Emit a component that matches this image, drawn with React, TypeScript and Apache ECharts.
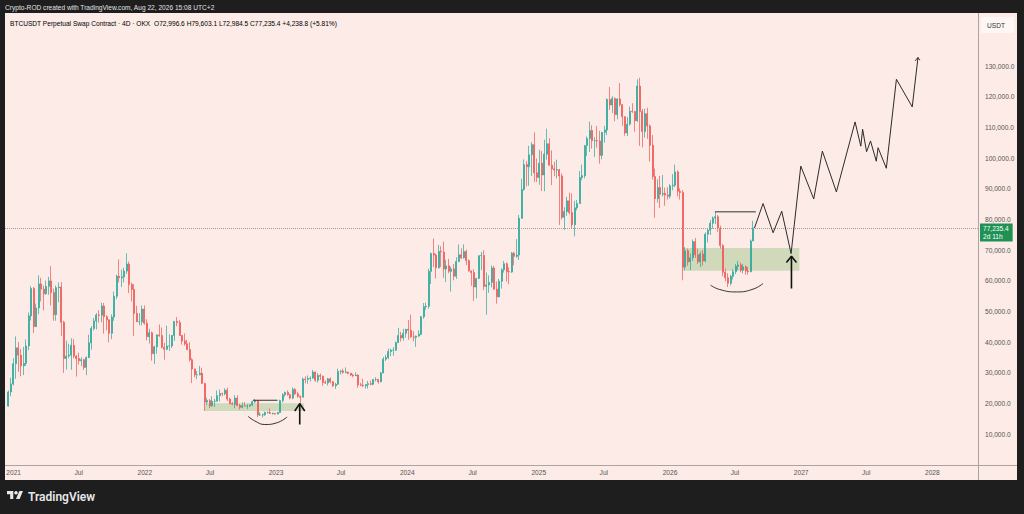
import React, { useEffect, useRef } from "react";
import * as echarts from "echarts";

const DAY = 86400000;
const ts = (d: string) => Date.parse(d + "T00:00:00Z");

// ---- Weekly candles, thousands of USDT: [open, high, low, close] ----
const weeks2020 = [
  [19.2, 24.3, 19.0, 23.8], [23.8, 28.4, 22.4, 26.4], [26.4, 34.8, 25.9, 33.0],
];
const weeks2021 = [
  [33.0, 41.9, 28.1, 38.2], [38.2, 40.1, 30.4, 35.8], [35.8, 37.8, 28.9, 32.3], [32.3, 38.5, 29.3, 33.1],
  [33.1, 40.9, 32.3, 38.8], [38.8, 49.7, 37.4, 48.6], [48.6, 58.3, 47.1, 57.5], [57.5, 58.0, 43.0, 45.1],
  [45.1, 52.6, 45.0, 51.2], [51.2, 61.8, 49.1, 59.0], [59.0, 61.0, 53.3, 57.3], [57.3, 58.5, 50.4, 55.8],
  [55.8, 60.1, 55.5, 58.2], [58.2, 61.3, 55.5, 60.0], [60.0, 64.8, 52.0, 56.2], [56.2, 57.5, 47.0, 49.0],
  [49.0, 58.5, 47.0, 57.8], [57.8, 59.5, 53.0, 58.0], [58.0, 59.6, 42.0, 46.5], [46.5, 47.0, 30.0, 34.7],
  [34.7, 40.5, 31.1, 35.5], [35.5, 39.5, 34.8, 35.8], [35.8, 41.3, 31.0, 39.0], [39.0, 41.0, 34.8, 35.5],
  [35.5, 35.8, 28.8, 34.7], [34.7, 36.6, 32.7, 34.0], [34.0, 35.1, 32.2, 34.3], [34.3, 34.6, 31.0, 31.8],
  [31.8, 35.4, 29.3, 35.0], [35.0, 42.5, 34.9, 39.8], [39.8, 45.3, 37.6, 44.5], [44.5, 47.9, 43.8, 46.9],
  [46.9, 49.5, 44.2, 48.9], [48.9, 50.4, 46.4, 48.8], [48.8, 52.9, 46.5, 51.8], [51.8, 52.8, 42.8, 48.3],
  [48.3, 48.8, 43.9, 47.3], [47.3, 47.4, 40.0, 42.9], [42.9, 49.1, 41.0, 48.2], [48.2, 56.5, 47.0, 55.0],
  [55.0, 62.0, 54.0, 61.5], [61.5, 67.0, 59.5, 61.0], [61.0, 63.7, 58.0, 61.3], [61.3, 64.3, 59.5, 63.2],
  [63.2, 69.0, 62.3, 65.5], [65.5, 66.3, 56.0, 58.8], [58.8, 59.5, 53.3, 57.2], [57.2, 59.0, 42.0, 49.4],
  [49.4, 51.9, 46.6, 46.7], [46.7, 49.5, 45.5, 46.7], [46.7, 52.0, 45.5, 50.8], [50.8, 52.0, 45.7, 46.2],
];
const weeks2022 = [
  [46.2, 47.5, 40.6, 41.8], [41.8, 44.4, 39.6, 43.1], [43.1, 43.5, 34.0, 36.3], [36.3, 38.9, 32.9, 38.5],
  [38.5, 42.6, 36.3, 42.4], [42.4, 45.8, 41.7, 42.2], [42.2, 44.8, 38.0, 38.4], [38.4, 39.8, 34.3, 37.7],
  [37.7, 45.4, 37.4, 38.8], [38.8, 42.6, 37.2, 38.8], [38.8, 42.3, 38.1, 42.2], [42.2, 46.9, 40.5, 46.8],
  [46.8, 48.2, 45.2, 46.4], [46.4, 47.2, 42.1, 42.2], [42.2, 42.4, 39.2, 40.4], [40.4, 42.9, 38.9, 39.5],
  [39.5, 40.8, 37.5, 37.6], [37.6, 40.0, 33.7, 34.3], [34.3, 34.8, 26.7, 31.3], [31.3, 31.4, 28.6, 29.4],
  [29.4, 30.6, 28.0, 29.4], [29.4, 32.3, 29.2, 29.9], [29.9, 31.7, 26.5, 26.6], [26.6, 26.8, 17.6, 20.5],
  [20.5, 21.9, 19.6, 21.0], [21.0, 21.5, 18.6, 19.3], [19.3, 22.4, 19.0, 20.8], [20.8, 21.6, 18.9, 20.8],
  [20.8, 24.3, 20.7, 22.6], [22.6, 24.6, 20.7, 23.3], [23.3, 23.6, 22.4, 23.2], [23.2, 25.0, 22.7, 24.4],
  [24.4, 25.2, 20.8, 21.5], [21.5, 21.9, 19.8, 20.0], [20.0, 20.6, 19.5, 19.8], [19.8, 22.8, 18.5, 21.8],
  [21.8, 22.7, 19.3, 19.4], [19.4, 19.9, 18.1, 18.8], [18.8, 20.4, 18.5, 19.3], [19.3, 20.5, 19.1, 19.2],
  [19.2, 19.9, 18.2, 19.2], [19.2, 19.7, 18.9, 19.6], [19.6, 21.0, 19.2, 20.6], [20.6, 21.5, 20.1, 20.9],
  [20.9, 21.0, 15.6, 16.3], [16.3, 17.2, 16.0, 16.3], [16.3, 16.8, 15.5, 16.4], [16.4, 17.4, 16.0, 17.1],
  [17.1, 17.4, 16.8, 17.1], [17.1, 18.4, 16.6, 16.8], [16.8, 17.1, 16.4, 16.8], [16.8, 17.0, 16.4, 16.6],
];
const weeks2023 = [
  [16.6, 17.3, 16.5, 17.1], [17.1, 21.3, 17.0, 21.0], [21.0, 23.4, 20.4, 22.9], [22.9, 23.9, 22.3, 23.7],
  [23.7, 24.3, 22.6, 22.9], [22.9, 23.2, 21.4, 21.8], [21.8, 25.3, 21.4, 24.6], [24.6, 25.1, 22.9, 23.2],
  [23.2, 23.9, 21.9, 22.4], [22.4, 22.6, 19.6, 22.1], [22.1, 28.5, 21.9, 28.0], [28.0, 28.9, 26.6, 27.9],
  [27.9, 29.2, 26.5, 28.2], [28.2, 28.9, 27.2, 28.3], [28.3, 31.0, 28.2, 30.3], [30.3, 30.5, 27.1, 27.6],
  [27.6, 30.0, 26.9, 29.2], [29.2, 29.8, 27.7, 28.9], [28.9, 29.2, 25.8, 26.9], [26.9, 27.6, 26.4, 26.7],
  [26.7, 28.4, 25.9, 28.1], [28.1, 28.5, 26.6, 27.1], [27.1, 27.4, 25.4, 25.8], [25.8, 26.8, 24.8, 26.3],
  [26.3, 31.4, 26.2, 30.5], [30.5, 31.0, 29.5, 30.6], [30.6, 31.4, 29.7, 30.2], [30.2, 31.8, 29.9, 30.3],
  [30.3, 30.4, 29.5, 29.9], [29.9, 30.0, 29.0, 29.3], [29.3, 29.7, 28.6, 29.1], [29.1, 30.2, 29.0, 29.3],
  [29.3, 29.6, 25.2, 26.1], [26.1, 26.8, 25.8, 26.0], [26.0, 28.1, 25.4, 25.8], [25.8, 26.3, 24.9, 26.2],
  [26.2, 27.4, 24.9, 26.5], [26.5, 27.5, 26.0, 26.3], [26.3, 28.0, 26.0, 27.9], [27.9, 28.6, 27.2, 27.9],
  [27.9, 28.0, 26.5, 27.1], [27.1, 30.3, 27.0, 30.0], [30.0, 35.2, 29.9, 34.5], [34.5, 35.9, 33.9, 35.0],
  [35.0, 37.9, 34.5, 37.0], [37.0, 37.9, 35.5, 37.4], [37.4, 38.4, 35.6, 37.4], [37.4, 40.2, 37.2, 39.9],
  [39.9, 44.7, 39.8, 42.2], [42.2, 43.4, 40.2, 41.4], [41.4, 44.4, 40.5, 42.9], [42.9, 44.4, 41.5, 44.2],
];
const weeks2024 = [
  [44.2, 47.2, 40.8, 43.9], [43.9, 49.0, 41.5, 41.7], [41.7, 43.6, 40.3, 41.6], [41.6, 42.2, 38.5, 42.0],
  [42.0, 43.9, 41.8, 42.6], [42.6, 48.6, 42.3, 48.3], [48.3, 52.8, 47.7, 51.6], [51.6, 52.9, 50.6, 51.7],
  [51.7, 64.0, 50.9, 63.1], [63.1, 69.2, 59.0, 68.9], [68.9, 73.8, 64.5, 68.4], [68.4, 68.9, 60.8, 64.3],
  [64.3, 71.7, 64.0, 69.6], [69.6, 71.3, 64.5, 69.4], [69.4, 72.8, 61.0, 63.9], [63.9, 66.9, 59.6, 64.9],
  [64.9, 67.2, 62.5, 63.1], [63.1, 64.7, 56.5, 63.9], [63.9, 65.5, 60.2, 61.5], [61.5, 67.7, 60.6, 66.3],
  [66.3, 71.9, 66.1, 68.5], [68.5, 70.6, 67.1, 67.5], [67.5, 71.9, 67.3, 69.6], [69.6, 70.2, 65.1, 66.6],
  [66.6, 67.0, 63.1, 63.2], [63.2, 63.4, 58.4, 62.7], [62.7, 63.8, 53.5, 58.0], [58.0, 61.0, 54.3, 60.8],
  [60.8, 68.4, 60.6, 68.2], [68.2, 69.4, 63.5, 68.3], [68.3, 70.0, 57.0, 58.2], [58.2, 62.7, 49.0, 58.7],
  [58.7, 61.8, 56.1, 59.5], [59.5, 65.0, 57.9, 64.2], [64.2, 64.9, 57.2, 57.3], [57.3, 59.8, 52.6, 54.8],
  [54.8, 60.7, 54.6, 59.9], [59.9, 64.1, 57.5, 63.6], [63.6, 66.5, 62.7, 65.6], [65.6, 66.0, 59.8, 63.0],
  [63.0, 64.4, 58.9, 62.9], [62.9, 69.4, 62.6, 69.0], [69.0, 69.5, 65.1, 68.0], [68.0, 73.6, 67.5, 68.4],
  [68.4, 81.5, 66.8, 80.4], [80.4, 93.3, 80.2, 89.8], [89.8, 99.6, 89.4, 97.9], [97.9, 99.0, 90.8, 97.2],
  [97.2, 104.0, 91.0, 101.1], [101.1, 105.2, 94.2, 104.4], [104.4, 108.4, 92.2, 95.2], [95.2, 99.9, 92.2, 93.7],
  [93.7, 102.7, 91.3, 98.3],
];
const weeks2025 = [
  [98.3, 102.3, 89.3, 94.5], [94.5, 106.0, 89.2, 101.3], [101.3, 109.6, 99.5, 104.7], [104.7, 106.5, 97.6, 97.7],
  [97.7, 102.5, 91.2, 96.5], [96.5, 98.8, 94.1, 96.1], [96.1, 99.5, 93.4, 96.2], [96.2, 96.5, 78.2, 94.2],
  [94.2, 95.0, 80.0, 80.7], [80.7, 84.0, 76.6, 82.6], [82.6, 87.4, 81.2, 86.1], [86.1, 88.8, 81.6, 82.3],
  [82.3, 88.5, 77.1, 78.3], [78.3, 86.1, 74.5, 83.8], [83.8, 86.4, 83.0, 85.2], [85.2, 95.8, 85.1, 93.7],
  [93.7, 97.9, 92.8, 94.3], [94.3, 104.2, 93.4, 104.1], [104.1, 107.1, 100.7, 106.4], [106.4, 111.9, 102.0, 109.0],
  [109.0, 110.7, 103.1, 105.7], [105.7, 106.8, 100.4, 105.7], [105.7, 110.5, 103.4, 105.6], [105.6, 108.9, 98.2, 100.9],
  [100.9, 108.5, 99.6, 108.4], [108.4, 110.5, 105.1, 109.2], [109.2, 119.5, 107.5, 119.1], [119.1, 123.2, 115.7, 117.3],
  [117.3, 120.2, 114.7, 119.4], [119.4, 119.8, 112.0, 114.2], [114.2, 119.5, 112.7, 119.3], [119.3, 124.5, 116.8, 117.4],
  [117.4, 117.6, 110.6, 113.5], [113.5, 113.6, 107.3, 108.2], [108.2, 113.4, 107.2, 111.1], [111.1, 116.8, 110.6, 115.3],
  [115.3, 117.9, 114.7, 115.2], [115.2, 115.4, 108.6, 112.2], [112.2, 125.7, 111.8, 123.5], [123.5, 126.2, 104.0, 115.2],
  [115.2, 116.0, 103.5, 108.7], [108.7, 116.1, 106.7, 114.5], [114.5, 116.4, 106.3, 110.5], [110.5, 111.0, 98.9, 104.2],
  [104.2, 107.5, 93.0, 94.0], [94.0, 96.6, 80.6, 86.8], [86.8, 93.1, 85.5, 90.4], [90.4, 94.2, 83.8, 88.2],
  [88.2, 94.5, 87.5, 88.5], [88.5, 90.4, 84.5, 88.0], [88.0, 90.5, 86.5, 87.6], [87.6, 91.5, 86.8, 91.0],
];
const weeks2026 = [
  [91.0, 94.8, 89.5, 91.2], [91.2, 97.9, 90.5, 95.5], [95.5, 96.0, 87.5, 89.2], [89.2, 90.2, 86.5, 88.8],
  [88.8, 89.6, 60.2, 64.5], [64.5, 71.0, 63.5, 69.8], [69.8, 70.5, 65.0, 66.2], [66.2, 69.0, 63.5, 67.5],
  [67.5, 73.5, 66.5, 72.8], [72.8, 74.0, 67.5, 68.5], [68.5, 70.5, 65.5, 66.2], [66.2, 69.5, 64.5, 68.8],
  [68.8, 70.0, 65.0, 66.5], [66.5, 75.8, 66.0, 75.2], [75.2, 77.0, 72.5, 76.5], [76.5, 79.8, 75.0, 78.8],
  [78.8, 81.0, 77.0, 80.5], [80.5, 82.5, 78.5, 80.9], [80.9, 81.5, 76.0, 77.2], [77.2, 78.0, 70.5, 71.5],
  [71.5, 72.0, 61.5, 62.8], [62.8, 64.0, 59.8, 61.0], [61.0, 62.5, 58.0, 59.2], [59.2, 62.0, 58.5, 61.5],
  [61.5, 63.8, 60.5, 63.0], [63.0, 65.5, 62.2, 64.8], [64.8, 66.5, 63.5, 65.2], [65.2, 66.0, 62.8, 63.5],
  [63.5, 65.5, 62.5, 64.6], [64.6, 65.0, 62.0, 63.2], [63.2, 64.5, 62.0, 63.0], [63.0, 73.5, 62.8, 73.0],
  [73.0, 79.6, 72.98, 77.2354],
];
const weekBlocks: [string, number[][]][] = [
  ["2020-12-14", weeks2020], ["2021-01-04", weeks2021], ["2022-01-03", weeks2022], ["2023-01-02", weeks2023],
  ["2024-01-01", weeks2024], ["2025-01-06", weeks2025], ["2026-01-05", weeks2026],
];

// ---- Axis ticks ----
const timeTickDates = [
  "2021-01-01", "2021-07-01", "2022-01-01", "2022-07-01", "2023-01-01", "2023-07-01", "2024-01-01", "2024-07-01",
  "2025-01-01", "2025-07-01", "2026-01-01", "2026-07-01", "2027-01-01", "2027-07-01", "2028-01-01",
];
const priceTicks = [10, 20, 30, 40, 50, 60, 70, 80, 90, 100, 110, 120, 130];
const xRange = ["2020-12-08", "2028-05-07"];
const yRange = [0, 147.3];

// ---- Drawings (dates, thousands of USDT) ----
const projectionDates = [
  "2026-08-24", "2026-09-17", "2026-10-15", "2026-11-08", "2026-12-04", "2026-12-31", "2027-02-05", "2027-03-01",
  "2027-04-09", "2027-05-31", "2027-06-16", "2027-06-21", "2027-07-02", "2027-07-13", "2027-07-29", "2027-08-03",
  "2027-08-26", "2027-09-23", "2027-11-06", "2027-11-22",
];
const projectionPrices = [
  77.2, 85.2, 75.7, 82.7, 68.9, 97.4, 86.7, 102.3, 89.0, 111.8, 103.9, 109.4, 102.1, 105.6, 99.0, 103.4, 96.7,
  125.7, 116.7, 132.8,
];
const projectionHeadDates = ["2027-11-14", "2027-11-22", "2027-11-27"];
const projectionHeadPrices = [131.7, 132.8, 131.9];

const box2022 = { from: "2022-06-16", to: "2023-03-20", low: 17.6, high: 20.1 };
const box2026 = { from: "2026-02-06", to: "2026-12-27", low: 63.3, high: 70.7 };
const level2022 = { from: "2022-10-29", to: "2023-01-05", price: 21.1 };
const level2026 = { from: "2026-05-06", to: "2026-08-28", price: 82.5 };
const arc2022Dates = ["2022-10-15", "2022-11-03", "2022-12-01", "2023-01-02", "2023-02-01"];
const arc2022Prices = [15.9, 14.35, 13.2, 13.7, 15.65];
const arc2026Dates = ["2026-04-24", "2026-05-19", "2026-07-05", "2026-08-20", "2026-09-17"];
const arc2026Prices = [58.6, 57.2, 56.4, 57.3, 59.15];
const arrow2022 = { date: "2023-03-08", from: 13.2, to: 20.0, wingL: "2023-02-22", wingR: "2023-03-22", wing: 17.6 };
const arrow2026 = { date: "2026-12-05", from: 57.5, to: 68.0, wingL: "2026-11-21", wingR: "2026-12-19", wing: 66.0 };

const headerText = "Crypto-ROD created with TradingView.com, Aug 22, 2026 15:08 UTC+2";
const symbolText = "BTCUSDT Perpetual Swap Contract · 4D · OKX";
const ohlcText = [["O", "72,996.6"], ["H", "79,603.1"], ["L", "72,984.5"], ["C", "77,235.4"]];
const changeText = "+4,238.8 (+5.81%)";
const countdownText = "2d 11h";

echarts.graphic.registerShape(
  "tvlogo",
  echarts.graphic.extendPath("M14 22H7V11H0V4h14v18zM28 22h-8l7.5-18h8L28 22z", {})
);

const UP = "#26a69a";
const DOWN = "#ef5350";
const FONT = "'Liberation Sans', Arial, sans-serif";

function buildCandles() {
  const out: number[][] = [];
  weekBlocks.forEach(([start, rows]) => {
    const t0 = ts(start);
    rows.forEach((r, i) => {
      out.push([t0 + i * 7 * DAY + 3.5 * DAY, r[0], r[3], r[2], r[1]]);
    });
  });
  return out;
}

const pts = (dates: string[], prices: number[]) => dates.map((d, i) => [ts(d), prices[i]]);

function lineSeries(data: number[][], color: string, width: number, smooth = false) {
  return {
    type: "line",
    data,
    symbol: "none",
    showSymbol: false,
    smooth,
    silent: true,
    z: 6,
    lineStyle: { color, width },
  };
}

export default function App() {
  const ref = useRef<HTMLDivElement>(null);
  useEffect(() => {
    if (!ref.current) return;
    const chart = echarts.init(ref.current, undefined, { renderer: "svg" });
    const candles = buildCandles();
    const lastClose = candles[candles.length - 1][2];
    const fmtPrice = (v: number) =>
      (v * 1000).toLocaleString("en-US", { minimumFractionDigits: 1, maximumFractionDigits: 1 });

    const rich: any = {
      n: { color: "#3b3b3b", fontSize: 6.6, fontFamily: FONT },
      k: { color: "#3b3b3b", fontSize: 6.6, fontFamily: FONT },
      v: { color: "#1e9a78", fontSize: 6.6, fontFamily: FONT },
    };
    const legendStr =
      "{n|" + symbolText + "}  " +
      ohlcText.map(([k, v]) => "{k|" + k + "}{v|" + v + "}").join(" ") +
      " {v|" + changeText + "}";

    const option: any = {
      animation: false,
      backgroundColor: "#1e1e1e",
      grid: { left: 5, right: 46, top: 13, bottom: 49 },
      xAxis: {
        type: "value",
        min: ts(xRange[0]),
        max: ts(xRange[1]),
        axisLine: { show: false },
        axisTick: { show: false },
        splitLine: { show: false },
        axisLabel: {
          customValues: timeTickDates.map(ts),
          formatter: (v: number) => {
            const d = new Date(v);
            return d.getUTCMonth() === 0 ? String(d.getUTCFullYear()) : "Jul";
          },
          color: "#555",
          fontSize: 6.6,
          fontFamily: FONT,
          margin: 4,
        },
      },
      yAxis: {
        type: "value",
        position: "right",
        min: yRange[0],
        max: yRange[1],
        axisLine: { show: false },
        axisTick: { show: false },
        splitLine: { show: false },
        axisLabel: {
          customValues: priceTicks,
          formatter: (v: number) => fmtPrice(v),
          color: "#555",
          fontSize: 6.6,
          fontFamily: FONT,
          margin: 7,
        },
      },
      series: [
        {
          type: "candlestick",
          data: candles,
          barWidth: 1.5,
          z: 3,
          itemStyle: { color: UP, color0: DOWN, borderColor: UP, borderColor0: DOWN, borderWidth: 0.7 },
          markArea: {
            silent: true,
            itemStyle: { color: "rgba(110,175,90,0.30)" },
            data: [box2022, box2026].map((b) => [
              { xAxis: ts(b.from), yAxis: b.high },
              { xAxis: ts(b.to), yAxis: b.low },
            ]),
          },
          markLine: {
            silent: true,
            symbol: ["none", "none"],
            lineStyle: { type: "dotted", color: "#a19a98", width: 1 },
            label: { show: false },
            data: [{ yAxis: lastClose }],
          },
        },
        {
          type: "scatter",
          data: [[ts(xRange[1]), lastClose]],
          symbolSize: 0,
          silent: true,
          clip: false,
          z: 12,
          itemStyle: { opacity: 1 },
          label: {
            show: true,
            position: "right",
            distance: 2,
            offset: [0, 4.5],
            opacity: 1,
            formatter: fmtPrice(lastClose) + "\n" + countdownText,
            color: "#ffffff",
            backgroundColor: "#1f9155",
            fontSize: 6.6,
            lineHeight: 8,
            fontFamily: FONT,
            padding: [1, 4, 1, 3],
          },
        },
        lineSeries(pts(projectionDates, projectionPrices), "#2b2b2b", 1),
        lineSeries(pts(projectionHeadDates, projectionHeadPrices), "#2b2b2b", 1),
        lineSeries(pts([level2022.from, level2022.to], [level2022.price, level2022.price]), "#333", 1),
        lineSeries(pts([level2026.from, level2026.to], [level2026.price, level2026.price]), "#333", 1),
        lineSeries(pts(arc2022Dates, arc2022Prices), "#333", 1, true),
        lineSeries(pts(arc2026Dates, arc2026Prices), "#333", 1, true),
        ...[arrow2022, arrow2026].flatMap((a) => [
          lineSeries(pts([a.date, a.date], [a.from, a.to]), "#111", 1.6),
          lineSeries(pts([a.wingL, a.date, a.wingR], [a.wing, a.to, a.wing]), "#111", 1.6),
        ]),
      ],
      graphic: [
        { type: "rect", z: -100, silent: true, shape: { x: 5, y: 13, width: 1012, height: 467 }, style: { fill: "#fcebe6" } },
        { type: "line", z: 10, silent: true, shape: { x1: 978.5, y1: 13, x2: 978.5, y2: 480 }, style: { stroke: "#aaa3a1", lineWidth: 1 } },
        { type: "line", z: 10, silent: true, shape: { x1: 5, y1: 465.5, x2: 1017, y2: 465.5 }, style: { stroke: "#aaa3a1", lineWidth: 1 } },
        { type: "rect", z: 10, silent: true, shape: { x: 981, y: 17, width: 33, height: 16 }, style: { fill: "rgba(255,255,255,0.55)" } },
        {
          type: "text", z: 11, x: 987, y: 25,
          style: { text: "USDT", fill: "#333", fontSize: 6.6, fontFamily: FONT, verticalAlign: "middle" },
        },
        {
          type: "text", z: 11, x: 5, y: 7,
          style: { text: headerText, fill: "#e2e2e2", fontSize: 6.6, fontFamily: FONT, verticalAlign: "middle" },
        },
        {
          type: "text", z: 11, x: 10, y: 23,
          style: { text: legendStr, rich, fontSize: 6.6, fontFamily: FONT, verticalAlign: "middle" },
        },
        { type: "tvlogo", z: 11, x: 7, y: 489.2, scaleX: 0.45, scaleY: 0.45, style: { fill: "#e8e8e8" } },
        { type: "circle", z: 11, shape: { cx: 16, cy: 492.8, r: 1.8 }, style: { fill: "#e8e8e8" } },
        {
          type: "text", z: 11, x: 28, y: 497,
          style: { text: "TradingView", fill: "#e8e8e8", fontSize: 12, fontWeight: 600, fontFamily: "Roboto, 'Liberation Sans', sans-serif", verticalAlign: "middle" },
        },
      ],
    };
    chart.setOption(option);
    return () => chart.dispose();
  }, []);
  return (
    <div
      ref={ref}
      style={{ position: "fixed", left: 0, top: 0, width: 1024, height: 514, background: "#1e1e1e" }}
    />
  );
}
